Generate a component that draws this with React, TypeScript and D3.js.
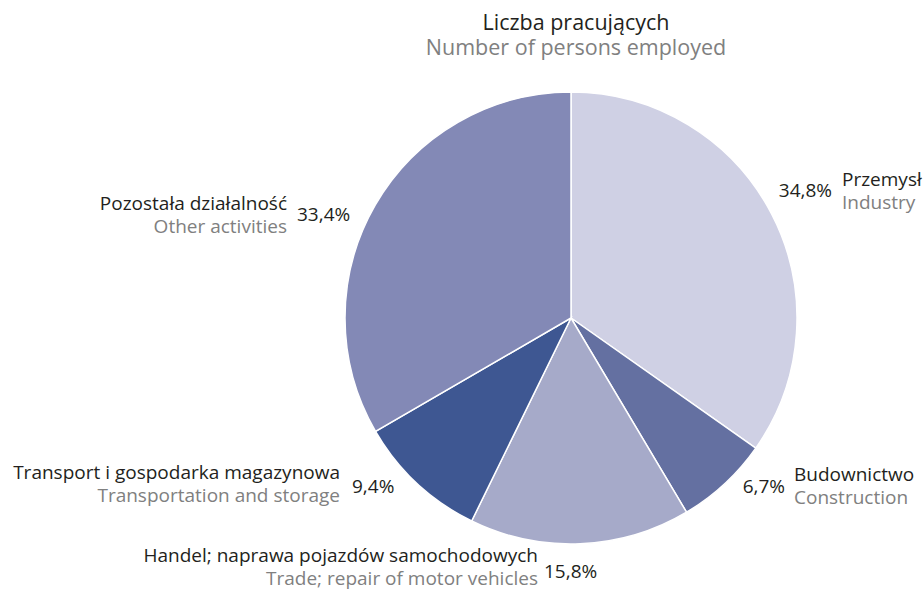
import React from "react";
import * as d3 from "d3";

const categoriesPl = [
  "Przemysł",
  "Budownictwo",
  "Handel; naprawa pojazdów samochodowych",
  "Transport i gospodarka magazynowa",
  "Pozostała działalność",
];
const categoriesEn = [
  "Industry",
  "Construction",
  "Trade; repair of motor vehicles",
  "Transportation and storage",
  "Other activities",
];
const values = [34.8, 6.7, 15.8, 9.4, 33.4];
const valueLabels = ["34,8%", "6,7%", "15,8%", "9,4%", "33,4%"];
const titlePl = "Liczba pracujących";
const titleEn = "Number of persons employed";

const colors = ["#cfd0e4", "#6470a1", "#a6aac9", "#3e5792", "#8389b6"];

// label layout: text anchor side, name anchor x, first baseline y, pct x, pct baseline
const labelLayout = [
  { side: "left", nx: 842, ny: 186, px: 832, py: 197 },
  { side: "left", nx: 794, ny: 481, px: 785, py: 493 },
  { side: "right", nx: 538, ny: 562, px: 544, py: 578 },
  { side: "right", nx: 340, ny: 479, px: 352, py: 493 },
  { side: "right", nx: 287, ny: 210, px: 297, py: 221 },
];

const W = 924;
const H = 589;
const cx = 571;
const cy = 318;
const R = 226;
const FONT = "'Open Sans', 'Noto Sans', sans-serif";
const FS = 19;
const TFS = 21.5;

export default function App() {
  const pie = d3.pie<number>().sort(null).value((d) => d)(values);
  const arc = d3.arc<d3.PieArcDatum<number>>().innerRadius(0).outerRadius(R);
  return (
    <svg
      width={W}
      height={H}
      style={{ position: "absolute", left: 0, top: 0, background: "#fff" }}
      fontFamily={FONT}
    >
      <text x={576} y={30} textAnchor="middle" fontSize={TFS} fill="#231f20">
        {titlePl}
      </text>
      <text x={576} y={55} textAnchor="middle" fontSize={TFS} fill="#808080">
        {titleEn}
      </text>
      <g transform={`translate(${cx},${cy})`}>
        {pie.map((p, i) => (
          <path key={i} d={arc(p) || ""} fill={colors[i]} stroke="#fff" strokeWidth={1.5} />
        ))}
      </g>
      {labelLayout.map((l, i) => {
        const nameAnchor = l.side === "left" ? "start" : "end";
        const pctAnchor = l.side === "left" ? "end" : "start";
        return (
          <g key={i} fontSize={FS}>
            <text x={l.nx} y={l.ny} textAnchor={nameAnchor} fill="#231f20">
              {categoriesPl[i]}
            </text>
            <text x={l.nx} y={l.ny + 23} textAnchor={nameAnchor} fill="#808080">
              {categoriesEn[i]}
            </text>
            <text x={l.px} y={l.py} textAnchor={pctAnchor} fill="#231f20">
              {valueLabels[i]}
            </text>
          </g>
        );
      })}
    </svg>
  );
}
